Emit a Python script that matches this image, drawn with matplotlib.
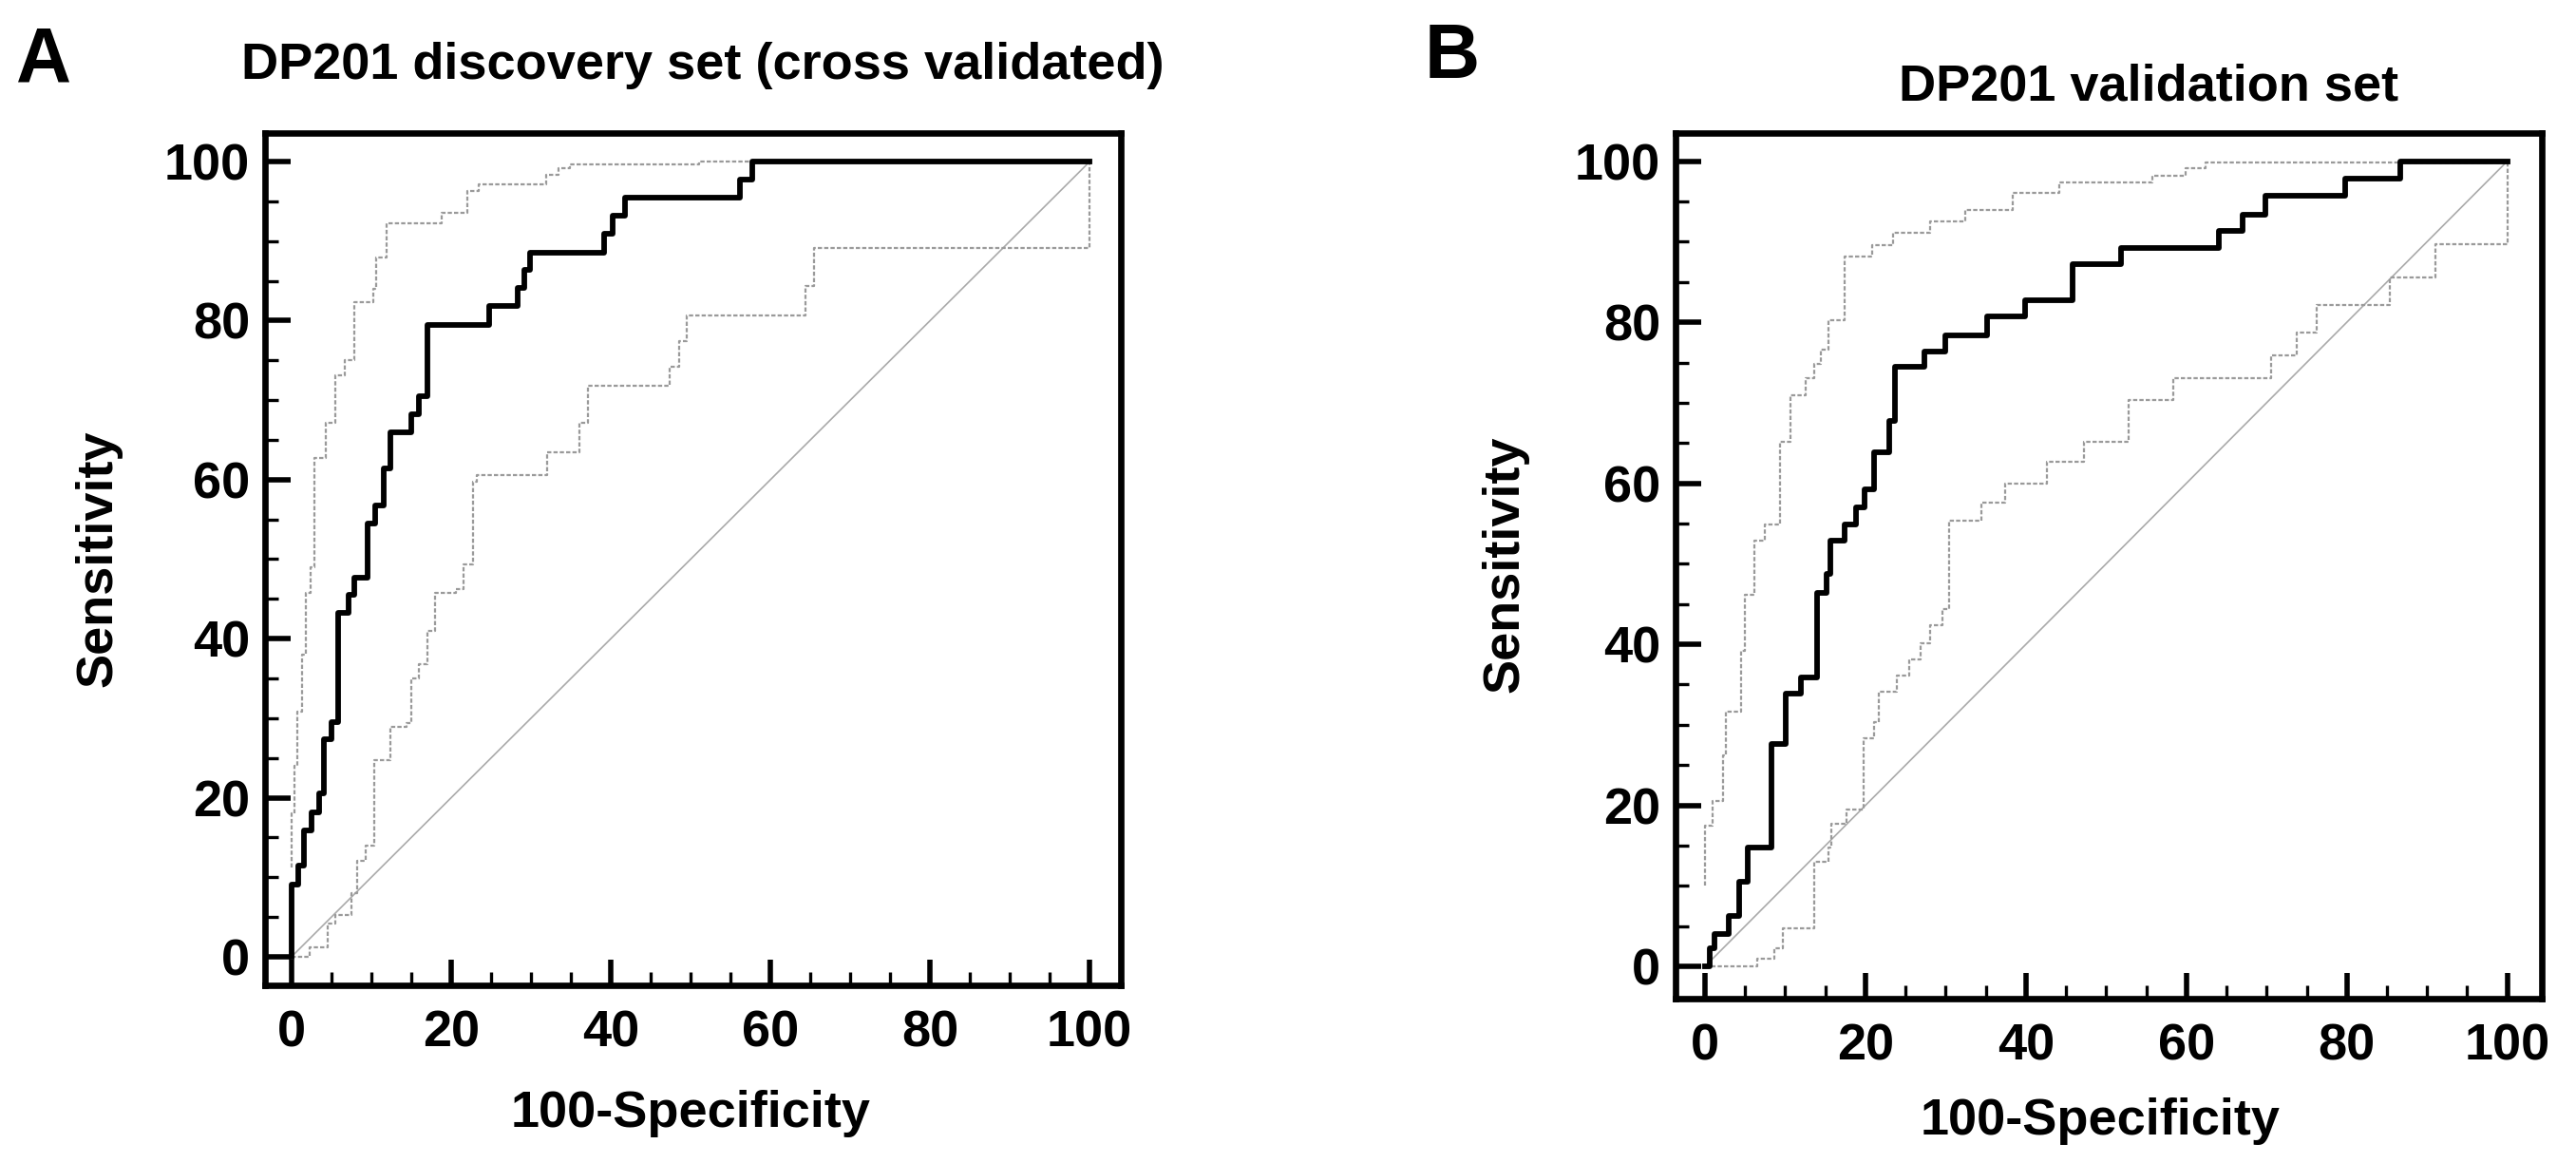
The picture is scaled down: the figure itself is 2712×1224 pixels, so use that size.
import numpy as np
import matplotlib
matplotlib.use('Agg')
import matplotlib.pyplot as plt
from matplotlib.ticker import MultipleLocator

plt.rcParams['font.family'] = ['Liberation Sans', 'DejaVu Sans']
plt.rcParams['font.weight'] = 'bold'

# panel A: discovery set (cross validated)
a_roc_x = [0, 0, 0.8, 1.5, 2.5, 3.5, 4.0, 5.0, 5.8, 7.2, 7.8, 9.5, 10.5, 11.6, 12.4, 15.0, 16.0, 17.0,
           24.7, 28.3, 29.2, 29.9, 39.2, 40.2, 41.8, 56.2, 57.7, 100]
a_roc_y = [0, 9.1, 11.4, 15.9, 18.2, 20.5, 27.3, 29.5, 43.2, 45.5, 47.7, 54.5, 56.8, 61.4, 65.9, 68.2, 70.5, 79.5,
           81.8, 84.1, 86.4, 88.6, 90.9, 93.2, 95.5, 97.7, 100, 100]
a_hi_x = [0, 0, 0.3, 0.7, 1.3, 1.8, 2.4, 2.9, 4.3, 5.5, 6.7, 7.9, 10.2, 10.6, 11.9, 18.8, 22.0, 23.4, 31.9,
          33.5, 34.9, 51.0, 100]
a_hi_y = [11.2, 18.0, 24.0, 30.8, 38.0, 45.7, 49.0, 62.7, 67.1, 73.1, 75.0, 82.3, 84.0, 87.9, 92.2, 93.6, 96.3,
          97.2, 98.4, 99.2, 99.6, 100, 100]
a_lo_x = [0, 2.3, 4.5, 5.5, 7.5, 8.2, 9.3, 10.3, 12.4, 14.4, 15.0, 16.0, 17.0, 18.0, 20.6, 21.6, 22.7, 23.2,
          32.0, 36.1, 37.1, 47.4, 48.5, 49.5, 64.4, 65.5, 100, 100]
a_lo_y = [0, 1.2, 4.2, 5.3, 8.0, 12.1, 14.0, 24.7, 28.9, 29.4, 35.0, 36.8, 41.0, 45.7, 46.2, 49.4, 59.7, 60.6,
          63.4, 67.2, 71.8, 74.2, 77.4, 80.7, 84.4, 89.1, 89.1, 100]

# panel B: validation set
b_roc_x = [0, 0.6, 1.2, 3.0, 4.3, 5.3, 8.3, 10.1, 11.9, 14.0, 15.2, 15.6, 17.4, 18.8, 19.9, 21.1, 23.0, 23.7,
           27.3, 30.0, 35.2, 39.9, 45.8, 51.8, 64.0, 67.0, 69.8, 79.8, 86.7, 100]
b_roc_y = [0, 2.2, 4.0, 6.3, 10.5, 14.8, 27.6, 33.9, 35.9, 46.4, 48.7, 52.9, 54.9, 57.0, 59.2, 63.9, 67.8, 74.5,
           76.4, 78.4, 80.7, 82.7, 87.2, 89.2, 91.4, 93.4, 95.7, 97.8, 100, 100]
b_hi_x = [0, 0, 1.0, 2.2, 2.6, 4.5, 5.0, 6.1, 7.5, 9.3, 10.7, 12.5, 13.6, 14.4, 15.4, 17.4, 20.8, 23.5, 28.1,
          32.4, 38.3, 44.1, 55.8, 59.9, 62.4, 100]
b_hi_y = [10.1, 17.5, 20.6, 26.2, 31.6, 39.2, 46.2, 52.9, 54.9, 65.2, 70.9, 73.1, 74.8, 76.6, 80.2, 88.2, 89.6,
          91.1, 92.5, 93.9, 96.1, 97.4, 98.2, 99.1, 99.8, 100]
b_lo_x = [0, 6.5, 8.7, 9.7, 13.6, 15.4, 15.8, 17.6, 19.8, 21.1, 21.7, 23.9, 25.5, 26.9, 28.1, 29.6, 30.4, 34.4,
          37.4, 42.6, 47.2, 52.8, 58.4, 70.6, 73.7, 76.2, 85.4, 91.0, 100, 100]
b_lo_y = [0, 0.9, 2.2, 4.7, 13.0, 14.8, 17.7, 19.5, 28.3, 30.3, 34.1, 36.1, 38.1, 40.1, 42.4, 44.4, 55.4, 57.6,
          60.0, 62.7, 65.2, 70.4, 73.1, 75.9, 78.7, 82.2, 85.6, 89.7, 89.7, 100]

W, H = 2712, 1224
fig = plt.figure(figsize=(W / 100, H / 100), dpi=100)


def px(x, y):
    return x / W, 1 - y / H


def panel(rect, xlim, ylim, roc, hi, lo):
    l, t, r, b = rect
    ax = fig.add_axes([l / W, 1 - b / H, (r - l) / W, (b - t) / H])
    ax.plot([0, 100], [0, 100], color='#aaaaaa', lw=1.2)
    for xs, ys in (hi, lo):
        ax.step(xs, ys, where='post', color='#9a9a9a', lw=1.6, ls=(0, (2, 1)))
    ax.step(roc[0], roc[1], where='post', color='black', lw=4.2)
    ax.set_xlim(*xlim)
    ax.set_ylim(*ylim)
    for s in ax.spines.values():
        s.set_linewidth(4.8)
    ax.xaxis.set_major_locator(MultipleLocator(20))
    ax.yaxis.set_major_locator(MultipleLocator(20))
    ax.xaxis.set_minor_locator(MultipleLocator(5))
    ax.yaxis.set_minor_locator(MultipleLocator(5))
    ax.tick_params(which='both', direction='in', top=False, right=False, labelsize=39, colors='black')
    ax.tick_params(which='major', length=19.5, width=4)
    ax.tick_params(which='minor', length=10, width=2.4)
    ax.tick_params(axis='x', which='major', pad=18.5)
    ax.tick_params(axis='y', which='major', pad=11.5)
    for lab in ax.get_xticklabels() + ax.get_yticklabels():
        lab.set_fontweight('bold')
    return ax


panel((279, 140, 1180, 1037), (-3.33, 103.9), (-3.6, 103.6),
      (a_roc_x, a_roc_y), (a_hi_x, a_hi_y), (a_lo_x, a_lo_y))
panel((1764, 140, 2676, 1051), (-3.67, 104.3), (-4.0, 103.5),
      (b_roc_x, b_roc_y), (b_hi_x, b_hi_y), (b_lo_x, b_lo_y))

fig.text(*px(17, 85), 'A', fontsize=58, fontweight='bold', ha='left', va='baseline')
fig.text(*px(1500, 82), 'B', fontsize=58, fontweight='bold', ha='left', va='baseline')
fig.text(*px(740, 83), 'DP201 discovery set (cross validated)', fontsize=39, fontweight='bold',
         ha='center', va='baseline')
fig.text(*px(2262, 106), 'DP201 validation set', fontsize=39, fontweight='bold',
         ha='center', va='baseline')
fig.text(*px(727, 1186), '100-Specificity', fontsize=39, fontweight='bold', ha='center', va='baseline')
fig.text(*px(2211, 1194), '100-Specificity', fontsize=39, fontweight='bold', ha='center', va='baseline')
fig.text(*px(104, 588), 'Sensitivity', fontsize=39, fontweight='bold', rotation=90, ha='center', va='center')
fig.text(*px(1585, 594), 'Sensitivity', fontsize=39, fontweight='bold', rotation=90, ha='center', va='center')

fig.savefig('out.png', dpi=100)
